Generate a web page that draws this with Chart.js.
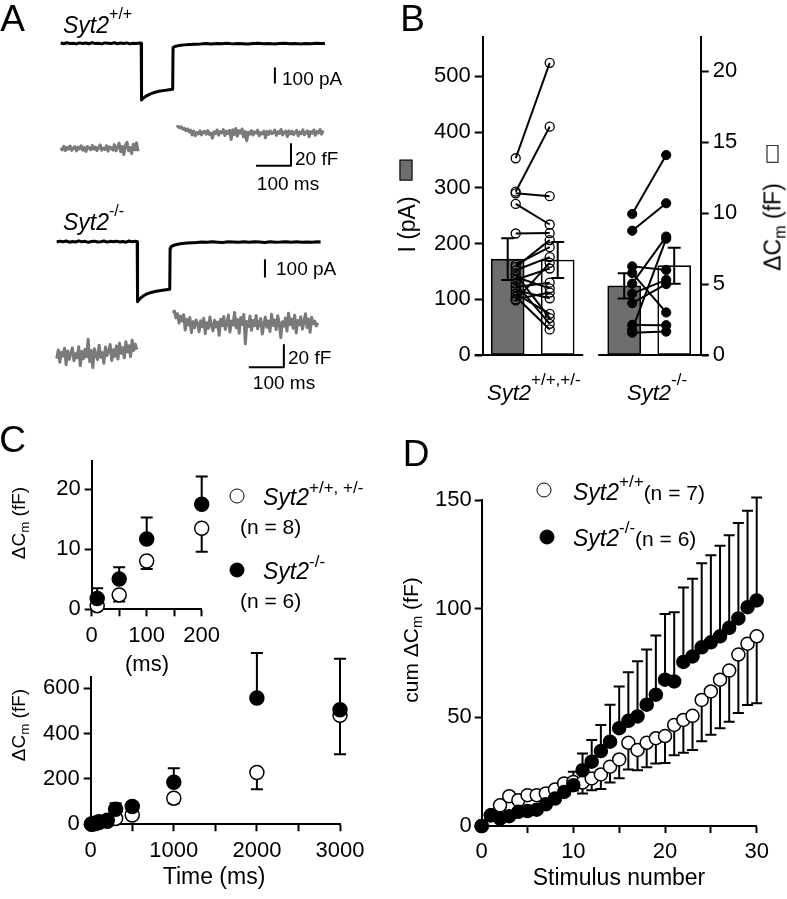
<!DOCTYPE html>
<html><head><meta charset="utf-8">
<script src="https://cdn.jsdelivr.net/npm/chart.js@4.4.1/dist/chart.umd.min.js"></script>
<style>
html,body{margin:0;padding:0;background:#fff}
body{width:787px;height:899px;overflow:hidden;position:relative;font-family:'Liberation Sans',Arial,Helvetica,sans-serif;color:#000}
canvas{position:absolute}
.t{position:absolute;white-space:nowrap;line-height:1}
.c{transform:translate(-50%,-50%)}
.l{transform:translateY(-50%)}
.r90{transform:translate(-50%,-50%) rotate(-90deg)}
.sp{position:relative}
.sb{position:relative;font-size:0.7em;top:0.3em}
.dot{position:absolute;border-radius:50%;box-sizing:border-box;border:1.6px solid #000;transform:translate(-50%,-50%)}
</style></head><body>

<canvas id="cA" width="380" height="400" style="left:0;top:0"></canvas>
<canvas id="cB" width="387" height="420" style="left:400px;top:0"></canvas>
<canvas id="cC1" width="240" height="220" style="left:0;top:440px"></canvas>
<canvas id="cC2" width="380" height="269" style="left:0;top:630px"></canvas>
<canvas id="cD" width="397" height="469" style="left:390px;top:430px"></canvas>

<!-- panel letters -->
<div class="t c" style="left:12.5px;top:18px;font-size:37px">A</div>
<div class="t c" style="left:412.5px;top:18px;font-size:37px">B</div>
<div class="t c" style="left:12.5px;top:439px;font-size:37px">C</div>
<div class="t c" style="left:416px;top:453px;font-size:37px">D</div>

<!-- panel A labels -->
<div class="t l" style="left:63px;top:25px;font-size:23px"><i>Syt2</i><span class="sp" style="font-size:16px;top:-14px">+/+</span></div>
<div class="t l" style="left:282px;top:78px;font-size:19px">100 pA</div>
<div class="t l" style="left:295px;top:158px;font-size:19px">20 fF</div>
<div class="t c" style="left:288px;top:183px;font-size:19px">100 ms</div>
<div class="t l" style="left:63px;top:222px;font-size:23px"><i>Syt2</i><span class="sp" style="font-size:16px;top:-14px">-/-</span></div>
<div class="t l" style="left:276px;top:268px;font-size:19px">100 pA</div>
<div class="t l" style="left:288px;top:357px;font-size:19px">20 fF</div>
<div class="t c" style="left:284px;top:382px;font-size:19px">100 ms</div>

<!-- panel B labels -->
<div class="t r90" style="left:407px;top:206px;font-size:23px">I (pA)<span style="display:inline-block;width:21px;height:13px;margin-left:16px;background:#6e6e6e;border:1.6px solid #000;box-sizing:border-box;vertical-align:2px"></span></div>
<div class="t r90" style="left:773px;top:208px;font-size:23px">ΔC<span class="sb">m</span> (fF)<span style="display:inline-block;width:18px;height:12px;margin-left:20px;background:#fff;border:1.8px solid #000;box-sizing:border-box;vertical-align:2px"></span></div>
<div class="t l" style="left:487px;top:393px;font-size:22px"><i>Syt2</i><span class="sp" style="font-size:17px;top:-15px">+/+,+/-</span></div>
<div class="t l" style="left:627px;top:393px;font-size:22px"><i>Syt2</i><span class="sp" style="font-size:17px;top:-15px">-/-</span></div>

<!-- panel C labels -->
<div class="t r90" style="left:18px;top:523px;font-size:19px">ΔC<span class="sb">m</span> (fF)</div>
<div class="t r90" style="left:18px;top:725px;font-size:19px">ΔC<span class="sb">m</span> (fF)</div>
<div class="t c" style="left:147px;top:664px;font-size:22px">(ms)</div>
<div class="t c" style="left:214px;top:876px;font-size:23px">Time (ms)</div>
<div class="dot" style="left:237px;top:496px;width:15px;height:15px;background:#fff"></div>
<div class="t l" style="left:263px;top:497px;font-size:23px"><i>Syt2</i><span class="sp" style="font-size:17px;top:-12px">+/+, +/-</span></div>
<div class="t l" style="left:240px;top:526px;font-size:21px">(n = 8)</div>
<div class="dot" style="left:237px;top:570px;width:15px;height:15px;background:#000"></div>
<div class="t l" style="left:263px;top:571px;font-size:23px"><i>Syt2</i><span class="sp" style="font-size:17px;top:-12px">-/-</span></div>
<div class="t l" style="left:240px;top:600px;font-size:21px">(n = 6)</div>

<!-- panel D labels -->
<div class="t r90" style="left:410px;top:640px;font-size:21px">cum ΔC<span class="sb">m</span> (fF)</div>
<div class="t c" style="left:619px;top:877px;font-size:23px">Stimulus number</div>
<div class="dot" style="left:544px;top:490px;width:15px;height:15px;background:#fff"></div>
<div class="t l" style="left:573px;top:492px;font-size:23px"><i>Syt2</i><span class="sp" style="font-size:17px;top:-13px">+/+</span><span style="font-size:21px">(n = 7)</span></div>
<div class="dot" style="left:547px;top:537px;width:15px;height:15px;background:#000"></div>
<div class="t l" style="left:573px;top:538px;font-size:23px"><i>Syt2</i><span class="sp" style="font-size:17px;top:-13px">-/-</span><span style="font-size:21px">(n = 6)</span></div>

<script>
// ================= DATA =================
// Panel A: example recordings (time in ms from trace start)
const baseMsPre  = [0,9,18,27,36,45,54,63,72,81,90,99,108,117,126,135,144,153,162,171,180,189,198,207,216,225];
const baseMsPost = [400,415,430,445,460,475,490,505,520,535,550,565,580,595,610,625,640,655,670,685,700,715,730,745];
const wtPreCurrentPA  = [2,-3,4,-2,1,-4,3,-1,2,-3,5,-2,0,-4,3,1,-2,4,-3,2,-1,3,-4,1,-2,2];
const wtPulseMs       = [230,231,234,240,248,258,270,284,298,310,320,321,323,327,333,342,354,368,384];
const wtPulseCurrentPA= [0,-396,-388,-376,-364,-352,-342,-334,-329,-325,-322,-30,-26,-22,-18,-14,-11,-8,-6];
const wtPostCurrentPA = [-4,-1,-5,-2,-3,0,-4,-1,-3,-5,-2,0,-3,-1,-4,-2,0,-3,-1,-4,-2,-3,0,-2];
const wtEndMs = 755, wtEndPA = -1;
const koPreCurrentPA  = [-2,3,-1,4,-3,1,-2,5,-1,2,-4,1,3,-2,0,4,-3,2,-1,3,-2,1,-3,4,-1,2];
const koPulseMs       = [230,231,234,240,248,258,270,284,298,312,323,324,326,330,337,346,358,372,388];
const koPulseCurrentPA= [0,-359,-350,-337,-324,-313,-304,-297,-292,-288,-285,-40,-32,-26,-20,-15,-11,-8,-6];
const koPostCurrentPA = [-5,-2,-4,-1,-3,-5,0,-2,-4,-1,-3,0,-2,-5,-1,-3,-2,0,-4,-1,-3,-2,-4,-1];
const koEndMs = 754, koEndPA = -2;

// capacitance traces (fF), sampled evenly between the given start/end times
const wtCmPreSpan = [0, 221];
const wtCmPre = [0.5,-1.5,1.8,-2.2,0.9,-0.8,2.1,-1.9,0.4,1.5,-2.4,1.1,-0.6,2.3,-1.7,0.8,-2.9,1.6,0.2,-1.3,2.6,-0.9,1.2,-2.1,0.7,3.1,-1.8,0.3,-1.1,2.4,-2.6,1.4,0.1,-1.6,3.4,-2.3,0.9,4.8,-3.1,1.7,-5.8,2.9,5.6,-2.2,0.6,-4.9,3.8,-1.4,5.2,-2.7];
const wtCmPostSpan = [331, 750];
const wtCmPost = [19.5,20.2,18.8,19.9,17.6,18.4,16.2,17.9,15.1,16.8,12.2,15.9,11.5,14.6,13.2,16.1,12.4,14.9,15.7,13.0,16.4,12.8,14.1,9.3,15.2,13.6,16.9,12.1,15.4,14.3,17.2,11.8,15.8,13.4,16.6,8.2,17.1,12.6,18.3,11.2,16.2,13.9,17.8,10.4,15.5,6.9,14.8,13.1,16.3,12.2,15.1,14.0,16.7,11.6,14.5,13.3,15.9,9.8,15.6,12.9,16.1,13.5,14.2,16.8,11.9,15.3,13.8,17.4,12.3,14.9,15.8,10.9,16.0,13.2,15.7,12.7,14.4,16.5,11.4,15.0,13.6,17.0,12.5,14.7,16.2,10.6,15.4,13.9,16.9,12.0,15.6,14.1,17.3,13.0,16.4];
const koCmPreSpan = [0, 229];
const koCmPre = [-3.5,4.2,-6.8,2.1,-1.2,5.8,-8.9,3.3,-4.1,1.6,6.2,-5.5,0.8,-2.7,7.1,-9.8,2.9,-3.6,4.8,-1.9,13.8,-6.2,3.7,-11.5,5.4,0.2,-4.4,8.6,-2.3,1.9,-7.6,6.9,-0.6,3.1,9.2,-5.1,4.5,-1.4,7.8,-3.9,10.4,1.2,6.3,-2.8,11.6,2.4,8.1,-1.7,12.9,3.8,9.5,4.6];
const koCmPostSpan = [332, 746];
const koCmPost = [37.5,39.2,33.1,36.8,28.4,34.6,30.2,35.9,22.1,31.7,26.5,33.4,19.8,29.6,24.3,31.2,27.8,20.6,30.4,25.1,32.8,18.9,28.7,23.6,33.9,26.2,21.4,30.9,24.8,29.3,17.5,31.8,25.9,34.2,22.7,28.1,35.6,20.3,30.0,26.7,37.9,24.1,31.5,19.2,33.3,27.4,36.1,9.8,29.8,25.3,34.7,21.9,30.6,26.0,35.2,23.2,28.9,32.4,18.6,27.1,33.7,24.6,30.3,20.9,36.4,26.3,31.1,22.5,34.9,28.2,15.4,29.5,25.6,33.0,21.2,37.1,27.0,31.9,23.8,35.4,19.5,30.7,26.9,34.1,22.9,29.1,36.8,24.4,32.1,20.1,33.6,27.7,30.1,25.7,28.6];

// scale bars (data units)
const wtCurrentBar = {ms: 612, pa: [-175, -275]};
const wtCmBar = {ms: [558, 658], ff: [4, -16]};
const koCurrentBar = {ms: 595, pa: [-110, -210]};
const koCmBar = {ms: [549, 649], ff: [8.7, -11.3]};

// Panel B
const bGroups = ['Syt2+/+,+/-', 'Syt2-/-'];
const meanCurrentPA = [172, 124];
const semCurrentPA = [37.5, 22.5];
const meanDeltaCmFF = [6.7, 6.3];
const semDeltaCmFF = [1.27, 1.27];
const wtCellCurrentPA = [353,293,290,271,218,162,158,152,145,140,135,128,122,116,110,105,100,98];
const wtCellDeltaCmFF = [20.6,16.1,11.2,9.2,8.6,7.6,8.1,6.9,2.6,4.7,6.1,2.2,5.1,4.0,2.9,1.8,4.4,6.5];
const koCellCurrentPA = [253,223,159,147,128,110,93,54,45,40];
const koCellDeltaCmFF = [14.1,10.7,6.0,3.0,8.35,5.3,5.0,2.1,8.2,1.65];

// Panel C
const pulseMsShort = [10, 50, 100, 200];
const wtShortCm = [0.6, 2.4, 8.05, 13.5];
const wtShortSem = [0.5, 1.1, 1.35, 3.9];
const koShortCm = [1.8, 5.05, 11.7, 17.5];
const koShortSem = [1.7, 1.95, 3.6, 4.6];
const pulseMsAll = [10, 50, 100, 200, 300, 500, 1000, 2000, 3000];
const wtAllCm = [0.6, 2.4, 8.05, 13.5, 26, 41, 115, 228, 480];
const wtAllSem = [0.5, 1.1, 1.35, 3.9, 10, 12, 22, 74, 171];
const koAllCm = [1.8, 5.05, 11.7, 17.5, 66, 78, 185, 556, 504];
const koAllSem = [1.7, 1.95, 3.6, 4.6, 27, 20, 62, 198, 225];

// Panel D
const stimulusNumber = [0,1,2,3,4,5,6,7,8,9,10,11,12,13,14,15,16,17,18,19,20,21,22,23,24,25,26,27,28,29,30];
const wtCumCm = [0,4.9,9.5,13.7,11.9,14.2,14.2,15,16.8,19.6,20.3,20,21.9,23.7,27.3,30.6,38.3,35,38.3,40.4,41.4,46.5,48.8,50.7,58,61.9,67.3,71.5,78.9,83.9,87.3];
const wtCumSem = [0,1,1,1,1,1,1,1,2,3,4,5,5.5,6.7,7.3,8.6,12.3,9.3,11.3,11.6,12.4,13.9,15.1,15.7,19,19.9,22.3,23.5,26.9,28.2,30.8];
const koCumCm = [0,4.9,3.4,4.5,6.5,6.9,7.5,10,12.6,15.7,18.8,25.7,29.6,34.5,38.8,45,48.4,50.4,55.8,60.4,67.3,66.5,75.5,78,82.2,84.5,87.3,91.2,95.5,100.7,103.8];
const koCumSem = [0,1,1,1,1,1,1,2,2.4,4.2,6.2,7.7,10,12,17,19.2,22.3,25.4,25.4,27.2,30.3,31.9,34.2,35.8,38.7,40.1,41.6,42.6,43.9,44.3,47.4];

// ================= RENDERING =================
const FONT = "'Liberation Sans', Arial, Helvetica, sans-serif";
Chart.defaults.font.family = FONT;
Chart.defaults.color = '#000';
Chart.defaults.animation = false;

const zip = (xs, ys) => xs.map((x, i) => ({x, y: ys[i]}));
const sampled = (span, vals) => vals.map((v, i) => ({x: span[0] + (span[1] - span[0]) * i / (vals.length - 1), y: v}));
const near = (v, step) => Math.abs(v / step - Math.round(v / step)) < 1e-6;

function axis(o) {
  const horiz = o.position === 'bottom' || o.position === 'top';
  return {
    type: 'linear', position: o.position, min: o.min, max: o.max, offset: false,
    border: {display: true, color: '#000', width: 2},
    grid: {drawOnChartArea: false, drawTicks: true, tickLength: o.tickLen || 7, tickWidth: 2, tickColor: '#000', color: '#000'},
    ticks: {stepSize: o.step, includeBounds: false, color: '#000', padding: o.pad, autoSkip: false, maxRotation: 0,
      font: {size: o.size || 22, family: FONT},
      callback: v => near(v, o.labelEvery) ? String(v) : ''},
    afterBuildTicks: s => { s.ticks = s.ticks.filter(t => near(t.value, o.step)); },
    afterFit: horiz ? (s => { s.height = o.fit; }) : (s => { s.width = o.fit; })
  };
}
const hidden = (min, max) => ({type: 'linear', display: false, min, max, offset: false});

function drawErr(chart, dsIndex, err, dir, cap, lw) {
  const ds = chart.data.datasets[dsIndex];
  const xs = chart.scales[ds.xAxisID || 'x'], ys = chart.scales[ds.yAxisID || 'y'];
  const ctx = chart.ctx;
  ctx.save(); ctx.strokeStyle = '#000'; ctx.lineWidth = lw || 2; ctx.lineCap = 'butt';
  ds.data.forEach((p, i) => {
    const e = err[i]; if (!e) return;
    const x = xs.getPixelForValue(p.x);
    const ends = dir === 0 ? [p.y - e, p.y + e] : [p.y, p.y + dir * e];
    const ya = ys.getPixelForValue(ends[0]), yb = ys.getPixelForValue(ends[1]);
    ctx.beginPath(); ctx.moveTo(x, ya); ctx.lineTo(x, yb);
    ctx.moveTo(x - cap / 2, yb); ctx.lineTo(x + cap / 2, yb);
    if (dir === 0) { ctx.moveTo(x - cap / 2, ya); ctx.lineTo(x + cap / 2, ya); }
    ctx.stroke();
  });
  ctx.restore();
}

// ---------- Panel A ----------
const traceLine = (data, xAxisID, yAxisID, color, w) => ({
  type: 'line', data, xAxisID, yAxisID, borderColor: color, borderWidth: w,
  pointRadius: 0, tension: 0, fill: false, clip: false, borderJoinStyle: 'round'
});
const wtCurrent = [].concat(zip(baseMsPre, wtPreCurrentPA), zip(wtPulseMs, wtPulseCurrentPA), zip(baseMsPost, wtPostCurrentPA), [{x: wtEndMs, y: wtEndPA}]);
const koCurrent = [].concat(zip(baseMsPre, koPreCurrentPA), zip(koPulseMs, koPulseCurrentPA), zip(baseMsPost, koPostCurrentPA), [{x: koEndMs, y: koEndPA}]);
const GREY = '#7a7a7a';
new Chart(document.getElementById('cA'), {
  type: 'line',
  data: {datasets: [
    traceLine(wtCurrent, 'xa1', 'yI1', '#000', 3),
    traceLine(sampled(wtCmPreSpan, wtCmPre), 'xa1', 'yC1', GREY, 3),
    traceLine(sampled(wtCmPostSpan, wtCmPost), 'xa1', 'yC1', GREY, 3),
    traceLine(koCurrent, 'xa2', 'yI2', '#000', 3),
    traceLine(sampled(koCmPreSpan, koCmPre), 'xa2', 'yC2', GREY, 3),
    traceLine(sampled(koCmPostSpan, koCmPost), 'xa2', 'yC2', GREY, 3),
    traceLine([{x: wtCurrentBar.ms, y: wtCurrentBar.pa[0]}, {x: wtCurrentBar.ms, y: wtCurrentBar.pa[1]}], 'xa1', 'yI1', '#000', 2),
    traceLine([{x: wtCmBar.ms[1], y: wtCmBar.ff[0]}, {x: wtCmBar.ms[1], y: wtCmBar.ff[1]}, {x: wtCmBar.ms[0], y: wtCmBar.ff[1]}], 'xa1', 'yC1', '#000', 2),
    traceLine([{x: koCurrentBar.ms, y: koCurrentBar.pa[0]}, {x: koCurrentBar.ms, y: koCurrentBar.pa[1]}], 'xa2', 'yI2', '#000', 2),
    traceLine([{x: koCmBar.ms[1], y: koCmBar.ff[0]}, {x: koCmBar.ms[1], y: koCmBar.ff[1]}, {x: koCmBar.ms[0], y: koCmBar.ff[1]}], 'xa2', 'yC2', '#000', 2)
  ]},
  options: {
    responsive: false, devicePixelRatio: 1, animation: false,
    layout: {padding: 0},
    plugins: {legend: {display: false}, tooltip: {enabled: false}},
    scales: {
      xa1: hidden(-173.4, 912.3), xa2: hidden(-162, 923.7),
      yI1: hidden(-2494, 302.8), yC1: hidden(-232, 136.7),
      yI2: hidden(-948, 1447), yC2: hidden(-40.6, 318.1)
    }
  }
});

// ---------- Panel B ----------
const groupCenter = [1, 3.33];
const barOffset = 0.5, dotOffset = 0.34;
const brokenAxis = {
  id: 'pairsAndAxis',
  afterDatasetDraw(chart, args) {
    if (args.index !== 1) return; // after the white bars are drawn
    const ctx = chart.ctx, xs = chart.scales.x, yL = chart.scales.yL, yR = chart.scales.yR;
    ctx.save(); ctx.strokeStyle = '#000'; ctx.lineWidth = 2;
    const pairs = (cur, cm, g) => cur.forEach((v, i) => {
      ctx.beginPath();
      ctx.moveTo(xs.getPixelForValue(groupCenter[g] - dotOffset), yL.getPixelForValue(v));
      ctx.lineTo(xs.getPixelForValue(groupCenter[g] + dotOffset), yR.getPixelForValue(cm[i]));
      ctx.stroke();
    });
    pairs(wtCellCurrentPA, wtCellDeltaCmFF, 0);
    pairs(koCellCurrentPA, koCellDeltaCmFF, 1);
    // broken baseline
    const y0 = yL.getPixelForValue(0);
    ctx.beginPath();
    ctx.moveTo(chart.chartArea.left - 8, y0); ctx.lineTo(xs.getPixelForValue(groupCenter[0] + 1.01), y0);
    ctx.moveTo(xs.getPixelForValue(groupCenter[1] - 1.02), y0); ctx.lineTo(chart.chartArea.right + 8, y0);
    ctx.stroke();
    ctx.restore();
    drawErr(chart, 0, semCurrentPA, 0, 13, 2);
    drawErr(chart, 1, semDeltaCmFF, 0, 13, 2);
  }
};
new Chart(document.getElementById('cB'), {
  type: 'bar',
  data: {datasets: [
    {type: 'bar', data: zip(groupCenter.map(c => c - barOffset), meanCurrentPA), yAxisID: 'yL', xAxisID: 'x',
     backgroundColor: '#6e6e6e', borderColor: '#000', borderWidth: 1.6, borderSkipped: false, barThickness: 33, grouped: false, order: 11},
    {type: 'bar', data: zip(groupCenter.map(c => c + barOffset), meanDeltaCmFF), yAxisID: 'yR', xAxisID: 'x',
     backgroundColor: '#fff', borderColor: '#000', borderWidth: 1.6, borderSkipped: false, barThickness: 33, grouped: false, order: 10},
    {type: 'scatter', data: wtCellCurrentPA.map(v => ({x: groupCenter[0] - dotOffset, y: v})), yAxisID: 'yL', xAxisID: 'x',
     pointRadius: 4.5, pointBorderWidth: 1.3, pointBackgroundColor: 'rgba(255,255,255,0)', pointBorderColor: '#000', clip: false, order: 1},
    {type: 'scatter', data: wtCellDeltaCmFF.map(v => ({x: groupCenter[0] + dotOffset, y: v})), yAxisID: 'yR', xAxisID: 'x',
     pointRadius: 4.5, pointBorderWidth: 1.3, pointBackgroundColor: 'rgba(255,255,255,0)', pointBorderColor: '#000', clip: false, order: 1},
    {type: 'scatter', data: koCellCurrentPA.map(v => ({x: groupCenter[1] - dotOffset, y: v})), yAxisID: 'yL', xAxisID: 'x',
     pointRadius: 4.6, pointBorderWidth: 1, pointBackgroundColor: '#000', pointBorderColor: '#000', clip: false, order: 0},
    {type: 'scatter', data: koCellDeltaCmFF.map(v => ({x: groupCenter[1] + dotOffset, y: v})), yAxisID: 'yR', xAxisID: 'x',
     pointRadius: 4.6, pointBorderWidth: 1, pointBackgroundColor: '#000', pointBorderColor: '#000', clip: false, order: 0}
  ]},
  options: {
    responsive: false, devicePixelRatio: 1, animation: false,
    layout: {padding: {left: 0, right: 0, top: 37.3, bottom: 65}},
    plugins: {legend: {display: false}, tooltip: {enabled: false}},
    scales: {
      x: hidden(0, 4.36),
      yL: axis({position: 'left', min: 0, max: 570, step: 100, labelEvery: 100, fit: 82.7, pad: 4, tickLen: 8}),
      yR: axis({position: 'right', min: 0, max: 22.4, step: 5, labelEvery: 5, fit: 86.3, pad: 4, tickLen: 8})
    }
  },
  plugins: [brokenAxis]
});

// ---------- Panels C & D (scatter with error bars) ----------
function errScatter(canvasId, wt, ko, wtErr, koErr, radius, layoutPad, xAx, yAx, cap) {
  return new Chart(document.getElementById(canvasId), {
    type: 'scatter',
    data: {datasets: [
      {data: ko, pointRadius: radius, pointBackgroundColor: '#000', pointBorderColor: '#000', pointBorderWidth: 1.5, clip: false, order: 0},
      {data: wt, pointRadius: radius, pointBackgroundColor: '#fff', pointBorderColor: '#000', pointBorderWidth: 1.5, clip: false, order: 1}
    ]},
    options: {
      responsive: false, devicePixelRatio: 1, animation: false,
      layout: {padding: layoutPad},
      plugins: {legend: {display: false}, tooltip: {enabled: false}},
      scales: {x: xAx, y: yAx}
    },
    plugins: [{id: 'err', beforeDatasetsDraw(chart) {
      drawErr(chart, 1, wtErr, -1, cap, 2);
      drawErr(chart, 0, koErr, 1, cap, 2);
    }}]
  });
}

errScatter('cC1', zip(pulseMsShort, wtShortCm), zip(pulseMsShort, koShortCm), wtShortSem, koShortSem, 7,
  {left: 0, right: 38.3, top: 21, bottom: 0},
  axis({position: 'bottom', min: 0, max: 200, step: 50, labelEvery: 100, fit: 50.7, pad: 6}),
  axis({position: 'left', min: 0, max: 24.7, step: 10, labelEvery: 10, fit: 91.7, pad: 4}), 12);

errScatter('cC2', zip(pulseMsAll, wtAllCm), zip(pulseMsAll, koAllCm), wtAllSem, koAllSem, 7,
  {left: 0, right: 40, top: 46.7, bottom: 0},
  axis({position: 'bottom', min: 0, max: 3000, step: 500, labelEvery: 1000, fit: 74.7, pad: 6}),
  axis({position: 'left', min: 0, max: 650, step: 200, labelEvery: 200, fit: 90.7, pad: 4}), 12);

errScatter('cD', zip(stimulusNumber, wtCumCm), zip(stimulusNumber, koCumCm), wtCumSem, koCumSem, 6.5,
  {left: 0, right: 30.3, top: 70, bottom: 0},
  axis({position: 'bottom', min: 0, max: 30, step: 5, labelEvery: 10, fit: 73, pad: 6}),
  axis({position: 'left', min: 0, max: 150, step: 50, labelEvery: 50, fit: 91.7, pad: 3}), 11);
</script>
</body></html>
